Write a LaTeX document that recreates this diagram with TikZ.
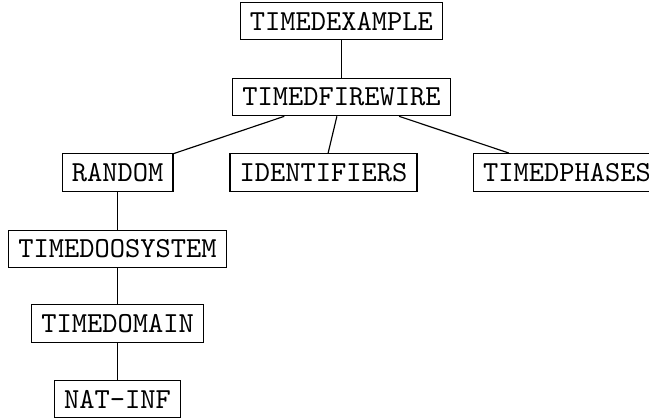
\documentclass[tikz,border=0pt]{standalone}
\usetikzlibrary{positioning}

\begin{document}
\begin{tikzpicture}[
  font=\ttfamily,
  theory/.style={draw,inner sep=3.33pt},
  line/.style={draw,line width=0.4pt}]
\useasboundingbox (-4.132,0.254) rectangle (3.721,-4.792);
\node[theory] (example) at (0,0) {TIMEDEXAMPLE};
\node[theory] (firewire) at (0,-0.92) {TIMEDFIREWIRE};
\node[theory] (random) at (-2.71,-1.833) {RANDOM};
\node[theory] (identifiers) at (-0.218,-1.833) {IDENTIFIERS};
\node[theory] (phases) at (2.729,-1.833) {TIMEDPHASES};
\node[theory] (oosystem) at (-2.71,-2.759) {TIMEDOOSYSTEM};
\node[theory] (domain) at (-2.71,-3.66) {TIMEDOMAIN};
\node[theory] (natinf) at (-2.71,-4.574) {NAT-INF};
\draw[line] (example)--(firewire);
\draw[line] (firewire)--(random);
\draw[line] (firewire)--(identifiers);
\draw[line] (firewire)--(phases);
\draw[line] (random)--(oosystem);
\draw[line] (oosystem)--(domain);
\draw[line] (domain)--(natinf);
\end{tikzpicture}
\end{document}
